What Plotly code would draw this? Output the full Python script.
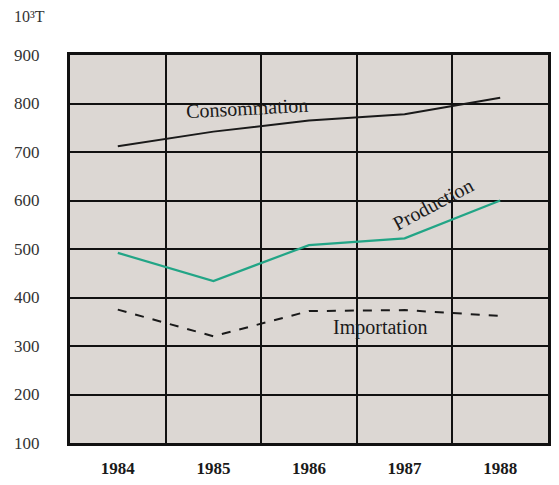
import plotly.graph_objects as go

years = ["1984", "1985", "1986", "1987", "1988"]
consommation = [712, 742, 765, 778, 812]
production = [492, 434, 508, 522, 600]
importation = [375, 320, 372, 374, 362]

y_ticks = [100, 200, 300, 400, 500, 600, 700, 800, 900]

serif = "Liberation Serif"
bg = "#dcd7d3"

fig = go.Figure()

fig.add_trace(go.Scatter(x=years, y=consommation, mode="lines",
                         line=dict(color="#1a1a1a", width=2), name="Consommation"))
fig.add_trace(go.Scatter(x=years, y=production, mode="lines",
                         line=dict(color="#22a586", width=2.2), name="Production"))
fig.add_trace(go.Scatter(x=years, y=importation, mode="lines",
                         line=dict(color="#1a1a1a", width=2, dash="dash"), name="Importation"))

# curve labels written on the chart
fig.add_annotation(x=1.35, y=791, text="Consommation", showarrow=False, textangle=-3,
                   font=dict(family=serif, size=20, color="#1a1a1a"))
fig.add_annotation(x=3.3, y=593, text="Production", showarrow=False, textangle=-28,
                   font=dict(family=serif, size=20, color="#1a1a1a"))
fig.add_annotation(x=2.74, y=338, text="Importation", showarrow=False,
                   font=dict(family=serif, size=20, color="#1a1a1a"))

# unit label
fig.add_annotation(xref="paper", yref="paper", x=-0.084, y=1.098,
                   xanchor="center", yanchor="middle",
                   text="10³T", showarrow=False,
                   font=dict(family=serif, size=16, color="#333"))

fig.update_xaxes(type="category", range=[-0.5, 4.5], tickson="boundaries",
                 showgrid=True, gridcolor="#111", gridwidth=1.8, ticks="",
                 showline=True, mirror=True, linecolor="#111", linewidth=3,
                 tickfont=dict(family=serif, size=17, color="#1a1a1a", weight="bold"),
                 ticklabelstandoff=8, automargin=False)
fig.update_yaxes(range=[100, 900], tickvals=y_ticks, showgrid=True,
                 gridcolor="#111", gridwidth=1.8, ticks="", zeroline=False,
                 showline=True, mirror=True, linecolor="#111", linewidth=3,
                 tickfont=dict(family=serif, size=17, color="#333"),
                 ticklabelstandoff=24, automargin=False)

# page body adds an 8px offset, so the figure is drawn a little smaller
fig.update_layout(width=551, height=477, showlegend=False,
                  plot_bgcolor=bg, paper_bgcolor="white",
                  margin=dict(l=62, r=11, t=47, b=42, autoexpand=False))

fig.write_html("out.html")
